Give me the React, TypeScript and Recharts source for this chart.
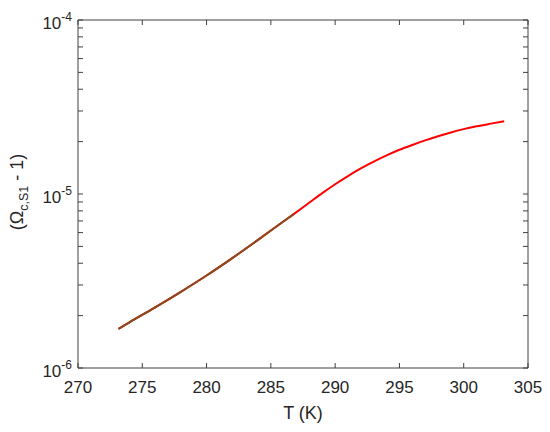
import { LineChart, Line, XAxis, YAxis, ReferenceArea } from 'recharts';

// temperature (K) and (Omega_c,S1 - 1)
const temps = [
  273.15, 274, 276, 278, 280, 282, 284, 286, 286.75, 288, 289, 290, 291, 292,
  293, 294, 295, 296, 297, 298, 299, 300, 301, 302, 303.15,
];
const omegaRed = [
  1.68e-6, 1.83e-6, 2.23e-6, 2.74e-6, 3.4e-6, 4.28e-6, 5.45e-6, 6.97e-6,
  7.64e-6, 8.93e-6, 1.012e-5, 1.138e-5, 1.268e-5, 1.403e-5, 1.535e-5, 1.667e-5,
  1.795e-5, 1.914e-5, 2.032e-5, 2.148e-5, 2.259e-5, 2.36e-5, 2.449e-5,
  2.529e-5, 2.618e-5,
];
// second series only covers the low-temperature part
const omegaBrown = [
  1.68e-6, 1.83e-6, 2.23e-6, 2.74e-6, 3.4e-6, 4.28e-6, 5.45e-6, 6.97e-6,
  7.64e-6,
];

const xTicks = [270, 275, 280, 285, 290, 295, 300, 305];
const yMajor = [1e-6, 1e-5, 1e-4];
const yMinor = [
  2e-6, 3e-6, 4e-6, 5e-6, 6e-6, 7e-6, 8e-6, 9e-6,
  2e-5, 3e-5, 4e-5, 5e-5, 6e-5, 7e-5, 8e-5, 9e-5,
];
const yExp: Record<string, string> = { '0.000001': '-6', '0.00001': '-5', '0.0001': '-4' };

const data = temps.map((t, i) => ({
  T: t,
  red: omegaRed[i],
  brown: i < omegaBrown.length ? omegaBrown[i] : undefined,
}));

const W = 550;
const H = 432;
const TOP = 20;
const RIGHT = 22;
const LEFT = 78;
const BOTTOM = 64;
const TICK = 5;
const axisColor = '#404040';
const textColor = '#262626';
const font = '"Liberation Sans", Arial, sans-serif';

function XTick(props: any) {
  const { x, y, payload } = props;
  return (
    <g>
      <line x1={x} y1={y} x2={x} y2={y - TICK} stroke={axisColor} />
      <line x1={x} y1={TOP} x2={x} y2={TOP + TICK} stroke={axisColor} />
      <text x={x} y={y + 25} textAnchor="middle" fontSize={17} fill={textColor} fontFamily={font}>
        {payload.value}
      </text>
    </g>
  );
}

function YTick(props: any) {
  const { x, y, payload } = props;
  const rightX = W - RIGHT;
  const isMajor = yMajor.some((v) => Math.abs(v - payload.value) / v < 1e-6);
  return (
    <g>
      <line x1={x} y1={y} x2={x + TICK} y2={y} stroke={axisColor} />
      <line x1={rightX} y1={y} x2={rightX - TICK} y2={y} stroke={axisColor} />
      {isMajor && (
        <text x={x - 6} y={y + 9} textAnchor="end" fontSize={17} fill={textColor} fontFamily={font}>
          <tspan>10</tspan>
          <tspan dy={-8} fontSize={12}>{yExp[String(payload.value)]}</tspan>
        </text>
      )}
    </g>
  );
}

function YLabel(props: any) {
  const vb = props.viewBox;
  const cx = vb.x + 23;
  const cy = vb.y + vb.height / 2 - 2;
  return (
    <text
      x={cx}
      y={cy}
      transform={`rotate(-90, ${cx}, ${cy})`}
      textAnchor="middle"
      fontSize={18}
      fill={textColor}
      fontFamily={font}
    >
      <tspan>(Ω</tspan>
      <tspan dy={5} fontSize={12.5}>c,S1</tspan>
      <tspan dy={-5}> - 1)</tspan>
    </text>
  );
}

function XLabel(props: any) {
  const vb = props.viewBox;
  return (
    <text
      x={vb.x + vb.width / 2}
      y={vb.y + 51}
      textAnchor="middle"
      fontSize={18}
      fill={textColor}
      fontFamily={font}
    >
      T (K)
    </text>
  );
}

export default function App() {
  return (
    <div style={{ position: 'absolute', left: 0, top: 0, width: W, height: H, background: '#fff' }}>
      <LineChart
        width={W}
        height={H}
        data={data}
        margin={{ top: TOP, right: RIGHT, left: 0, bottom: 0 }}
      >
        <XAxis
          dataKey="T"
          type="number"
          domain={[270, 305]}
          ticks={xTicks}
          interval={0}
          height={BOTTOM}
          axisLine={false}
          tickLine={false}
          tickSize={0}
          tickMargin={0}
          tick={<XTick />}
          label={(p: any) => <XLabel {...p} />}
        />
        <YAxis
          type="number"
          scale="log"
          domain={[1e-6, 1e-4]}
          allowDataOverflow
          ticks={[...yMajor, ...yMinor]}
          interval={0}
          width={LEFT}
          axisLine={false}
          tickLine={false}
          tickSize={0}
          tickMargin={0}
          tick={<YTick />}
          label={(p: any) => <YLabel {...p} />}
        />
        <ReferenceArea
          x1={270}
          x2={305}
          y1={1e-6}
          y2={1e-4}
          fill="none"
          stroke={axisColor}
          strokeWidth={1}
        />
        <Line
          dataKey="red"
          type="monotone"
          stroke="#ff0000"
          strokeWidth={2}
          dot={false}
          isAnimationActive={false}
        />
        <Line
          dataKey="brown"
          type="monotone"
          stroke="#8a4a1c"
          strokeWidth={2}
          dot={false}
          connectNulls={false}
          isAnimationActive={false}
        />
      </LineChart>
    </div>
  );
}
